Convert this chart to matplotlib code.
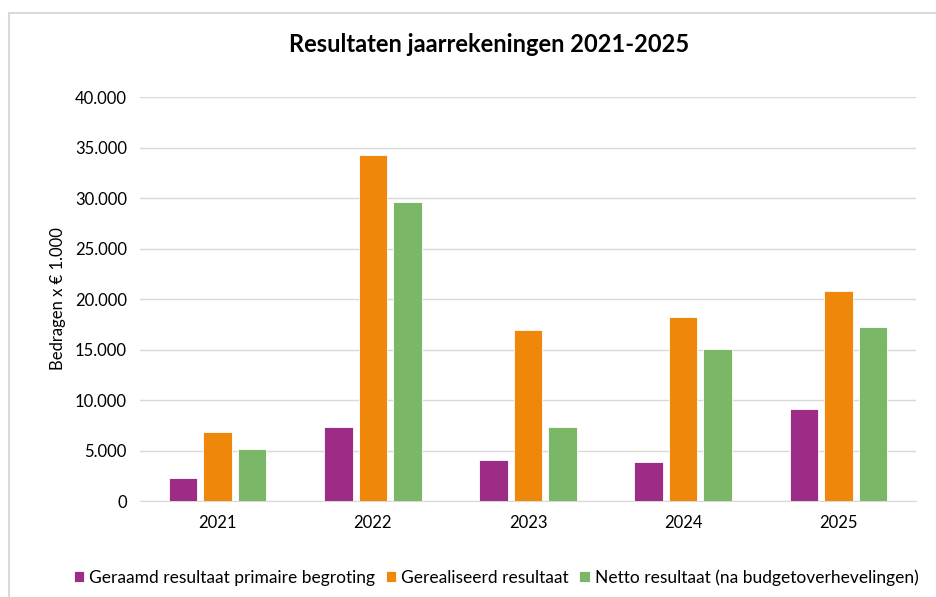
import matplotlib.pyplot as plt
from matplotlib.lines import Line2D
from matplotlib.ticker import FuncFormatter
import numpy as np

plt.rcParams['font.family'] = ['Lato', 'DejaVu Sans']

# Data (bedragen x € 1.000)
jaren = ['2021', '2022', '2023', '2024', '2025']
geraamd = [2300, 7330, 4060, 3890, 9140]
gerealiseerd = [6800, 34260, 16960, 18250, 20760]
netto = [5120, 29600, 7360, 15080, 17200]

series_labels = ['Geraamd resultaat primaire begroting',
                 'Gerealiseerd resultaat',
                 'Netto resultaat (na budgetoverhevelingen)']
colors = ['#9C2C85', '#EE870A', '#7AB867']

fig = plt.figure(figsize=(9.36, 5.97), dpi=100)
ax = fig.add_axes([0.1496, 0.1608, 0.829, 0.6767])

x = np.arange(len(jaren))
width = 0.184
pitch = 0.222
for i, (vals, lab, col) in enumerate(zip([geraamd, gerealiseerd, netto], series_labels, colors)):
    ax.bar(x + (i - 1) * pitch, vals, width=width, color=col, label=lab,
           edgecolor='white', linewidth=0.6, zorder=3)

ax.set_xlim(-0.5, len(jaren) - 0.5)
ax.set_ylim(0, 40000)
ax.set_yticks(np.arange(0, 40001, 5000))
ax.yaxis.set_major_formatter(FuncFormatter(lambda v, p: f'{int(v):,}'.replace(',', '.')))
ax.set_xticks(x)
ax.set_xticklabels(jaren)
ax.grid(axis='y', color='#d9d9d9', linewidth=1, zorder=0)
for s in ['top', 'right', 'left']:
    ax.spines[s].set_visible(False)
ax.spines['bottom'].set_color('#d9d9d9')
ax.tick_params(axis='both', length=0, labelsize=12, colors='#404040', labelcolor='#000000')
ax.tick_params(axis='y', pad=9.5)
ax.tick_params(axis='x', pad=10)

fig.text(58 / 936, 0.5, 'Bedragen x € 1.000', rotation=90, ha='center', va='center',
         fontsize=12)
fig.text(0.523, 0.925, 'Resultaten jaarrekeningen 2021-2025', ha='center', va='center',
         fontsize=17, fontweight='bold')

fig.legend(loc='center', bbox_to_anchor=(0.53, 0.033), ncol=3, frameon=False,
           fontsize=12.5, handlelength=0.6, handleheight=0.6, handletextpad=0.3,
           columnspacing=0.6)

# chart area border (top and left visible)
fig.add_artist(Line2D([0.0101, 1.0], [0.9774, 0.9774], color='#d9d9d9', linewidth=1.5,
                      transform=fig.transFigure))
fig.add_artist(Line2D([0.0101, 0.0101], [0.0, 0.9774], color='#d9d9d9', linewidth=1.5,
                      transform=fig.transFigure))

fig.savefig('out.png', dpi=100)
